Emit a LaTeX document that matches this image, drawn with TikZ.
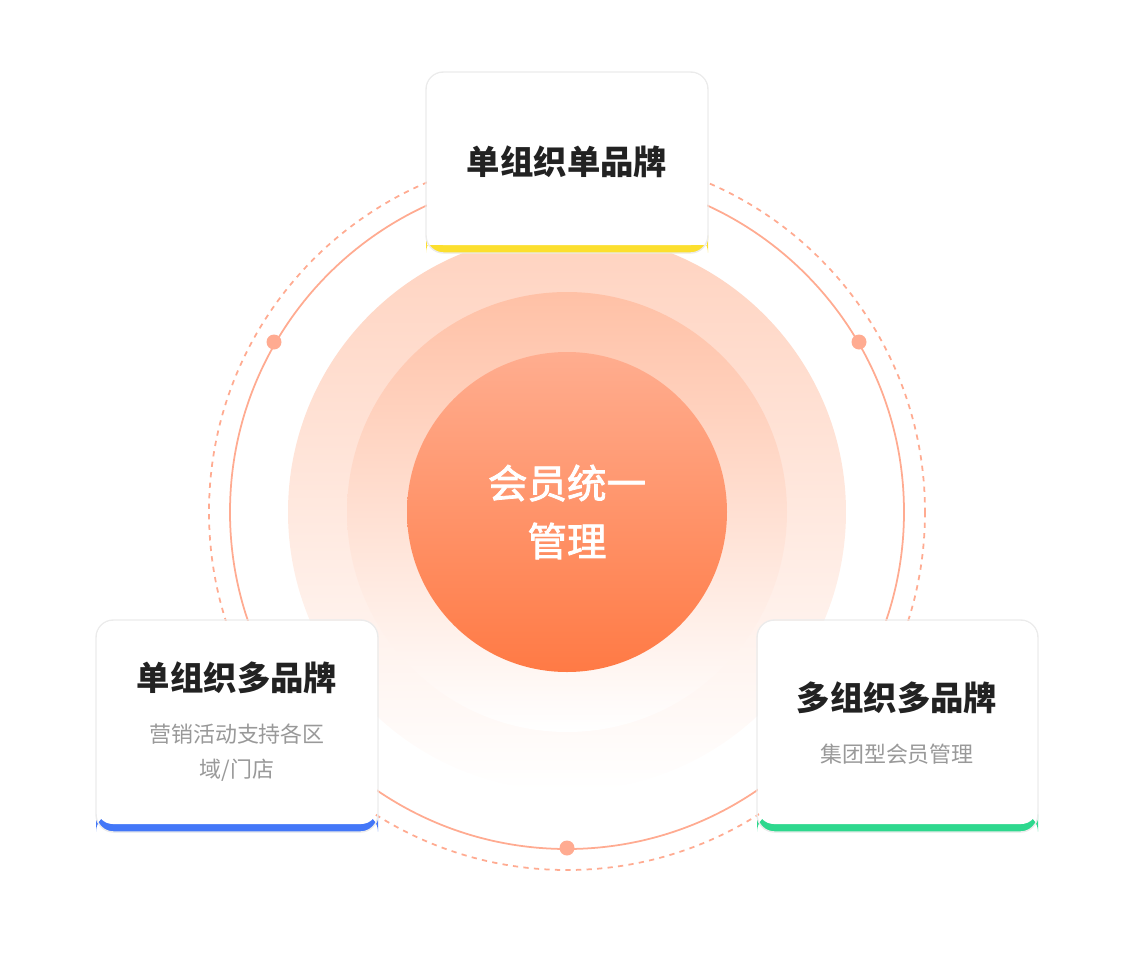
\documentclass[tikz,border=0pt]{standalone}
\usepackage{fontspec}
\setmainfont{Noto Sans CJK SC}
\newfontfamily\cjkbold[FakeBold=2]{Noto Sans CJK SC}
\usetikzlibrary{positioning}
\definecolor{ringOrange}{HTML}{FFAB91}
\definecolor{discTop}{HTML}{FFAD8F}
\definecolor{discBottom}{HTML}{FF7A45}
\definecolor{barYellow}{HTML}{FCDF2E}
\definecolor{barBlue}{HTML}{4377F8}
\definecolor{barGreen}{HTML}{2ED88E}
\definecolor{titleGray}{HTML}{222222}
\definecolor{subGray}{HTML}{999999}
\tikzstyle{cardBox}=[draw=black!8, fill=white, rounded corners=10pt, line width=0.8pt]
\tikzstyle{cardTitle}=[font=\fontsize{19}{24}\selectfont\bfseries, text=titleGray]
\tikzstyle{cardText}=[font=\fontsize{12.5}{20}\selectfont, text=subGray, align=center]
\tikzstyle{ringDot}=[circle, fill=ringOrange, minimum size=0.3cm, inner sep=0pt]
\begin{document}
\begin{tikzpicture}[x=0.02cm, y=-0.02cm]
    \useasboundingbox (0,0) rectangle (1134,954);
    \coordinate (c) at (567,512);
    % rings and discs
    \draw[ringOrange, dashed, line width=1pt] (c) circle (358);
    \draw[ringOrange, line width=1pt] (c) circle (337);
    \shade[top color=orange!60!red!25, bottom color=white] (c) circle (279);
    \shade[top color=orange!60!red!35, bottom color=white] (c) circle (220);
    \shade[top color=discTop, bottom color=discBottom] (c) circle (160);
    \node[ringDot] (d1) at (274,342) {};
    \node[ringDot] (d2) at (859,342) {};
    \node[ringDot] (d3) at (567,848) {};
    \node[align=center, text=white, font=\fontsize{22.5}{33}\selectfont\cjkbold] (core) at (c) {会员统一\\管理};
    % top card
    \fill[barYellow, rounded corners=10pt] (426,235) rectangle (708,253);
    \fill[white] (427,235) rectangle (707,245);
    \draw[cardBox, fill=none] (426,72) rectangle (708,253);
    \fill[white, rounded corners=9pt] (427,73) rectangle (707,245);
    \node[cardTitle] (t1) at (567,162) {单组织单品牌};
    % left card
    \fill[barBlue, rounded corners=10pt] (96,814) rectangle (378,832);
    \draw[cardBox, fill=none] (96,620) rectangle (378,832);
    \fill[white, rounded corners=9pt] (97,621) rectangle (377,824);
    \node[cardTitle] (t2) at (237,678) {单组织多品牌};
    \node[cardText, below=0.35cm of t2] (s2) {营销活动支持各区\\域/门店};
    % right card
    \fill[barGreen, rounded corners=10pt] (757,814) rectangle (1038,832);
    \draw[cardBox, fill=none] (757,620) rectangle (1038,832);
    \fill[white, rounded corners=9pt] (758,621) rectangle (1037,824);
    \node[cardTitle] (t3) at (897,698) {多组织多品牌};
    \node[cardText, below=0.35cm of t3] (s3) {集团型会员管理};
\end{tikzpicture}
\end{document}
